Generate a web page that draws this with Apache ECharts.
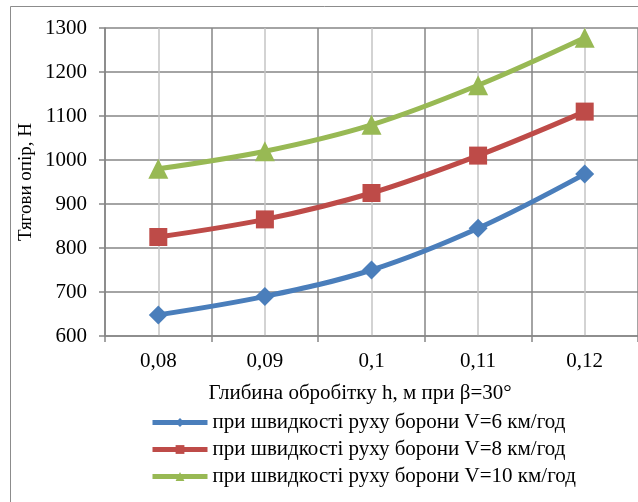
<!DOCTYPE html>
<html>
<head>
<meta charset="utf-8">
<script src="https://cdn.jsdelivr.net/npm/echarts@6/dist/echarts.min.js"></script>
<style>
html,body{margin:0;padding:0;background:#fff;}
#c{width:638px;height:502px;}
</style>
</head>
<body>
<div id="c"></div>
<script>
var categories = ['0,08', '0,09', '0,1', '0,11', '0,12'];
var seriesNames = [
  'при швидкості руху борони V=6 км/год',
  'при швидкості руху борони V=8 км/год',
  'при швидкості руху борони V=10 км/год'
];
var v6 = [648, 690, 750, 845, 968];
var v8 = [825, 865, 925, 1010, 1110];
var v10 = [980, 1020, 1080, 1170, 1278];
var yTicks = [600, 700, 800, 900, 1000, 1100, 1200, 1300];
var xTitle = 'Глибина обробітку h, м при β=30°';
var yTitle = 'Тягови опір, Н';

var FONT = '"Liberation Serif", "Times New Roman", serif';
var FS = 21;
var chart = echarts.init(document.getElementById('c'), null, {renderer: 'canvas'});

function mk(name, data, color, symbol, size) {
  return {
    name: name, type: 'line', data: data, xAxisIndex: 0, yAxisIndex: 0,
    smooth: 0.35, symbol: symbol, symbolSize: size, showSymbol: true,
    lineStyle: {color: color, width: 5},
    itemStyle: {color: color},
    emphasis: {disabled: true}, z: 5
  };
}

chart.setOption({
  animation: false,
  backgroundColor: '#fff',
  textStyle: {fontFamily: FONT},
  grid: {left: 105, top: 28, width: 534, height: 308},
  graphic: [
    {type: 'rect', shape: {x: 10.5, y: 6.5, width: 700, height: 600},
     style: {fill: null, stroke: '#8c8c8c', lineWidth: 1}, z: -10},
    {type: 'text', x: 360, y: 393, style: {text: xTitle, font: FS + 'px ' + FONT, fill: '#000', align: 'center', verticalAlign: 'middle'}},
    {type: 'text', x: 26, y: 182, rotation: Math.PI / 2, style: {text: yTitle, font: '19px ' + FONT, fill: '#000', align: 'center', verticalAlign: 'middle'}}
  ],
  legend: {
    orient: 'vertical', left: 145, top: 407,
    itemWidth: 55, itemHeight: 11, itemGap: 6,
    data: seriesNames,
    lineStyle: {width: 5},
    textStyle: {fontFamily: FONT, fontSize: FS, color: '#000'},
    selectedMode: false
  },
  xAxis: [{
    type: 'category', data: categories, boundaryGap: true,
    axisLine: {show: true, lineStyle: {color: '#868686', width: 1.5}},
    axisTick: {show: true, length: 6, lineStyle: {color: '#868686', width: 1.5}},
    axisLabel: {fontFamily: FONT, fontSize: FS, color: '#000', margin: 15},
    splitLine: {show: true, lineStyle: {color: '#868686', width: 1.5}},
    z: 2
  }, {
    type: 'category', data: categories, boundaryGap: true, position: 'bottom',
    axisLine: {show: false}, axisTick: {show: false}, axisLabel: {show: false},
    splitLine: {show: true, alignWithLabel: true, lineStyle: {color: '#c4c4c4', width: 1.5}},
    z: 1
  }],
  yAxis: {
    type: 'value', min: 600, max: 1300, interval: 100,
    axisLine: {show: true, lineStyle: {color: '#868686', width: 1.5}},
    axisTick: {show: true, length: 6, lineStyle: {color: '#868686', width: 1.5}},
    axisLabel: {fontFamily: FONT, fontSize: FS, color: '#000', margin: 18,
      formatter: function (v) { return yTicks.indexOf(v) >= 0 ? String(v) : ''; }},
    splitLine: {show: true, lineStyle: {color: '#868686', width: 1.5}}
  },
  series: [
    mk(seriesNames[0], v6, '#4A7EBB', 'diamond', 19),
    mk(seriesNames[1], v8, '#BE4B48', 'rect', 18),
    mk(seriesNames[2], v10, '#98B954', 'triangle', 20)
  ]
});
</script>
</body>
</html>
